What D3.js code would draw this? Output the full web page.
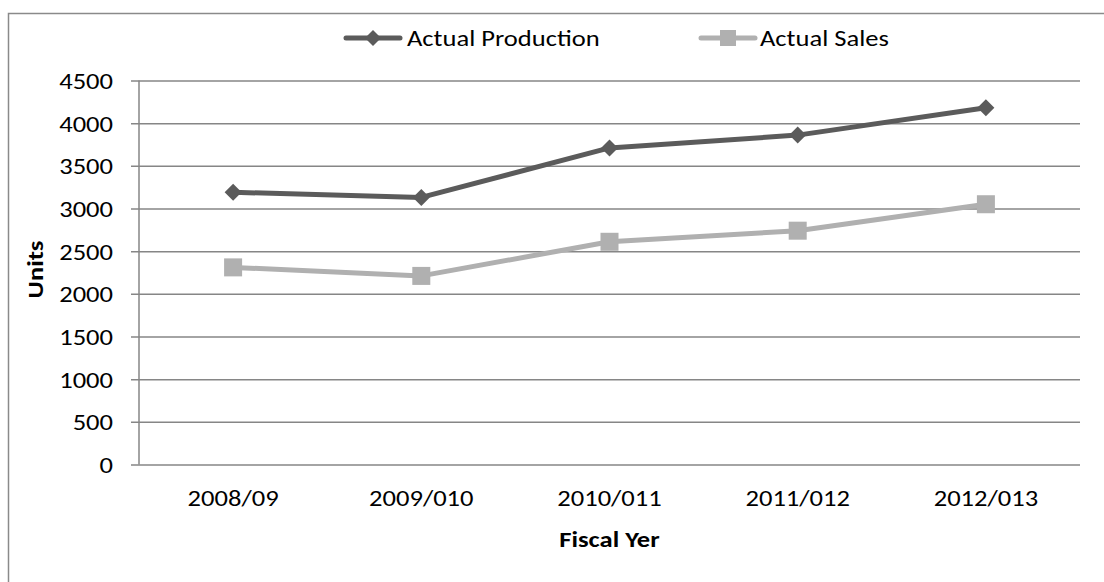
<!DOCTYPE html>
<html>
<head>
<meta charset="utf-8">
<script src="https://cdn.jsdelivr.net/npm/d3@7"></script>
<style>
  html, body { margin: 0; padding: 0; background: #fff; }
  svg { display: block; }
  text { font-family: Carlito, Calibri, "Open Sans", sans-serif; fill: #000; }
</style>
</head>
<body>
<svg id="chart" width="1104" height="582"></svg>
<script>
// Fiscal years on the x axis
const categories = ["2008/09", "2009/010", "2010/011", "2011/012", "2012/013"];
// Units per year
const productionValues = [3190, 3130, 3710, 3860, 4180];
const salesValues = [2310, 2210, 2610, 2740, 3050];
// Y axis ticks
const yTicks = [0, 500, 1000, 1500, 2000, 2500, 3000, 3500, 4000, 4500];

const series = [
  { name: "Actual Production", values: productionValues, color: "#5b5b5b", marker: "diamond" },
  { name: "Actual Sales", values: salesValues, color: "#b0b0b0", marker: "square" }
];

const FONT = "Carlito, Calibri, 'Open Sans', sans-serif";
const FS = 22.5;
const WIDEN = 1.18; // glyphs are drawn a little wider than the font's natural width

const svg = d3.select("#chart");
const W = 1104, H = 582;

// Widen text horizontally while keeping its anchor point
function widen(sel) {
  sel.each(function () {
    const n = this.getComputedTextLength();
    d3.select(this).attr("textLength", n * WIDEN).attr("lengthAdjust", "spacingAndGlyphs");
  });
}

// Chart frame (right and bottom edges fall outside the view)
svg.append("rect")
  .attr("x", 8.5).attr("y", 13.5)
  .attr("width", W + 10).attr("height", H + 10)
  .attr("fill", "none").attr("stroke", "#8a8a8a").attr("stroke-width", 1.5);

const plot = { left: 139, right: 1080, top: 80.5, bottom: 464.5 };

const x = d3.scaleBand().domain(categories).range([plot.left, plot.right]).padding(0);
const y = d3.scaleLinear().domain([0, 4500]).range([plot.bottom, plot.top]);
const cx = d => x(d) + x.bandwidth() / 2;

// Horizontal gridlines with left tick marks
const yAxis = d3.axisLeft(y).tickValues(yTicks).tickFormat(d3.format("d"))
  .tickSize(-(plot.right - plot.left)).tickSizeOuter(0).tickPadding(26);
const gy = svg.append("g").attr("transform", `translate(${plot.left},0)`).call(yAxis)
  .attr("font-size", FS).attr("font-family", FONT);
gy.select(".domain").remove();
gy.selectAll(".tick line").attr("stroke", "#868686").attr("stroke-width", 1.5).attr("x1", -8);
gy.selectAll(".tick text").attr("fill", "#000").attr("dy", "0.36em").call(widen);

// Vertical axis line
svg.append("line")
  .attr("x1", plot.left).attr("x2", plot.left)
  .attr("y1", plot.top).attr("y2", plot.bottom)
  .attr("stroke", "#868686").attr("stroke-width", 1.5);

// Category labels
const xAxis = d3.axisBottom(x).tickSize(0).tickPadding(26);
const gx = svg.append("g").attr("transform", `translate(0,${plot.bottom})`).call(xAxis)
  .attr("font-size", FS).attr("font-family", FONT);
gx.select(".domain").remove();
gx.selectAll(".tick text").attr("fill", "#000").call(widen);

// Axis titles
svg.append("text")
  .attr("transform", `translate(43,${(plot.top + plot.bottom) / 2 - 3}) rotate(-90)`)
  .attr("text-anchor", "middle")
  .attr("font-size", FS).attr("font-weight", "bold")
  .text("Units").call(widen);

svg.append("text")
  .attr("x", (plot.left + plot.right) / 2).attr("y", 547)
  .attr("text-anchor", "middle")
  .attr("font-size", FS).attr("font-weight", "bold")
  .text("Fiscal Yer").call(widen);

// Marker shapes
function drawMarker(g, type, px, py, color, s) {
  if (type === "diamond") {
    g.append("path")
      .attr("d", `M${px},${py - s}L${px + s},${py}L${px},${py + s}L${px - s},${py}Z`)
      .attr("fill", color);
  } else {
    g.append("rect")
      .attr("x", px - s).attr("y", py - s)
      .attr("width", 2 * s).attr("height", 2 * s)
      .attr("fill", color);
  }
}

const line = d3.line().x((d, i) => cx(categories[i])).y(d => y(d));

series.forEach(s => {
  const g = svg.append("g");
  g.append("path")
    .datum(s.values)
    .attr("d", line)
    .attr("fill", "none")
    .attr("stroke", s.color)
    .attr("stroke-width", 5)
    .attr("stroke-linejoin", "round")
    .attr("stroke-linecap", "round");
  s.values.forEach((v, i) => {
    drawMarker(g, s.marker, cx(categories[i]), y(v), s.color, s.marker === "diamond" ? 8.5 : 9);
  });
});

// Legend
const legendItems = [
  { x0: 346, textX: 407 },
  { x0: 701, textX: 760 }
];
series.forEach((s, i) => {
  const g = svg.append("g");
  const ly = 38;
  const li = legendItems[i];
  g.append("line")
    .attr("x1", li.x0).attr("x2", li.x0 + 54)
    .attr("y1", ly).attr("y2", ly)
    .attr("stroke", s.color).attr("stroke-width", 5).attr("stroke-linecap", "round");
  drawMarker(g, s.marker, li.x0 + 27, ly, s.color, 8);
  g.append("text")
    .attr("x", li.textX).attr("y", ly)
    .attr("dy", "0.36em")
    .attr("font-size", FS)
    .text(s.name).call(widen);
});
</script>
</body>
</html>
